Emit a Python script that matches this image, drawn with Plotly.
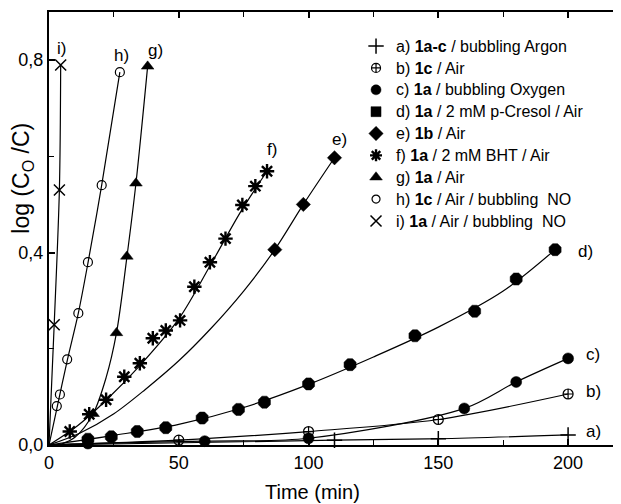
import plotly.graph_objects as go

# ---- data (time in min, log(C0/C)) ----
a_t = [0, 110, 150, 200]
a_v = [0, 0.010, 0.013, 0.021]

b_t = [0, 50, 100, 150, 200]
b_v = [0, 0.010, 0.028, 0.053, 0.106]

c_t = [0, 15, 60, 100, 160, 180, 200]
c_v = [0, 0.003, 0.008, 0.014, 0.076, 0.131, 0.180]

d_t = [0, 15, 24, 34, 45, 59, 73, 83, 100, 116, 141, 164, 180, 195]
d_v = [0, 0.012, 0.017, 0.028, 0.036, 0.056, 0.074, 0.089, 0.127, 0.167, 0.227, 0.278, 0.345, 0.406]
d_curve_t = [0, 25, 50, 75, 100, 125, 150, 175, 195]
d_curve_v = [0, 0.020, 0.043, 0.078, 0.126, 0.183, 0.245, 0.320, 0.406]

e_t = [87, 98, 110]
e_v = [0.406, 0.500, 0.597]
e_curve_t = [0, 12, 25, 37, 50, 62, 75, 87, 98, 110]
e_curve_v = [0, 0.025, 0.065, 0.115, 0.175, 0.240, 0.320, 0.406, 0.500, 0.597]

f_t = [8, 15.5, 22, 29, 35, 40, 45, 50.5, 56, 62, 68, 74.5, 79.5, 84]
f_v = [0.028, 0.064, 0.094, 0.142, 0.170, 0.222, 0.238, 0.259, 0.329, 0.380, 0.429, 0.499, 0.538, 0.569]
f_curve_t = [0, 11, 22, 35, 50, 62, 74, 84]
f_curve_v = [0, 0.040, 0.093, 0.165, 0.262, 0.372, 0.486, 0.569]

g_t = [17, 26, 30, 33.5, 38]
g_v = [0.065, 0.233, 0.392, 0.544, 0.787]
g_curve_t = [4, 10, 17, 22, 26, 30, 33.5, 38]
g_curve_v = [0, 0.016, 0.065, 0.140, 0.233, 0.390, 0.544, 0.787]

h_t = [3, 4.2, 7, 11.3, 15, 20.3, 27.3]
h_v = [0.081, 0.105, 0.178, 0.274, 0.380, 0.540, 0.775]
h_curve_t = [0, 3, 7, 11.3, 15, 20.3, 27.3]
h_curve_v = [0, 0.075, 0.175, 0.274, 0.378, 0.540, 0.775]

i_t = [2, 4, 4.5]
i_v = [0.25, 0.53, 0.79]
i_curve_t = [0, 2, 4, 4.5]
i_curve_v = [0, 0.25, 0.53, 0.79]

legend_labels = [
    "a) <b>1a-c</b> / bubbling Argon",
    "b) <b>1c</b> / Air",
    "c) <b>1a</b> / bubbling Oxygen",
    "d) <b>1a</b> / 2 mM p-Cresol / Air",
    "e) <b>1b</b> / Air",
    "f) <b>1a</b> / 2 mM BHT / Air",
    "g) <b>1a</b> / Air",
    "h) <b>1c</b> / Air / bubbling  NO",
    "i) <b>1a</b> / Air / bubbling  NO",
]
curve_labels = ["a)", "b)", "c)", "d)", "e)", "f)", "g)", "h)", "i)"]
xtick_vals = [0, 50, 100, 150, 200]
ytick_vals = [0, 0.4, 0.8]
ytick_text = ["0,0", "0,4", "0,8"]
x_title = "Time (min)"
y_title = "log (C<sub>O</sub> /C)"

BLACK = "black"
FONT = "Liberation Sans, Arial, sans-serif"
# (symbol, size, line width)
styles = [
    ("cross-thin-open", 11, 1.5),
    ("circle-cross-open", 10, 1.2),
    ("circle", 11, 0.5),
    ("octagon", 13, 0.5),
    ("diamond", 11, 0.5),
    ("asterisk-open", 12, 2.4),
    ("triangle-up", 11, 0.5),
    ("circle-open", 9, 1.2),
    ("x-thin-open", 11, 1.5),
]
legend_symbols = ["cross-thin-open", "circle-cross-open", "circle", "square", "diamond",
                  "asterisk-open", "triangle-up", "circle-open", "x-thin-open"]
legend_sizes = [11, 9, 10, 10, 11, 10, 11, 8, 11]

marker_series = [(a_t, a_v), (b_t, b_v), (c_t, c_v), (d_t, d_v), (e_t, e_v),
                 (f_t, f_v), (g_t, g_v), (h_t, h_v), (i_t, i_v)]
curve_series = [(a_t, a_v), (b_t, b_v), (c_t, c_v), (d_curve_t, d_curve_v),
                (e_curve_t, e_curve_v), (f_curve_t, f_curve_v), (g_curve_t, g_curve_v),
                (h_curve_t, h_curve_v), (i_curve_t, i_curve_v)]

fig = go.Figure()

for tt, vv in curve_series:
    fig.add_trace(go.Scatter(x=tt, y=vv, mode="lines",
                             line=dict(color=BLACK, width=1.2, shape="spline", smoothing=0.9),
                             showlegend=False, hoverinfo="skip"))

for k, (tt, vv) in enumerate(marker_series):
    sym, size, lw = styles[k]
    pts = [(t, v) for t, v in zip(tt, vv) if not (t == 0 and v == 0)]
    fig.add_trace(go.Scatter(
        x=[p[0] for p in pts], y=[p[1] for p in pts], mode="markers",
        marker=dict(symbol=sym, size=size, color=BLACK, opacity=1,
                    line=dict(color=BLACK, width=lw)),
        showlegend=False, cliponaxis=False))

# legend-only entries
for k, lab in enumerate(legend_labels):
    sym, size, lw = styles[k]
    fig.add_trace(go.Scatter(
        x=[None], y=[None], mode="markers",
        name='<span style="font-size:16px">' + lab + "</span>",
        marker=dict(symbol=legend_symbols[k], size=legend_sizes[k], color=BLACK, opacity=1,
                    line=dict(color=BLACK, width=lw))))

# curve labels
label_pos = [(206, 0.028), (206, 0.111), (206, 0.188), (203, 0.403), (112, 0.635),
             (86, 0.615), (41, 0.82), (28, 0.81), (5, 0.825)]
for lab, (x, y) in zip(curve_labels, label_pos):
    fig.add_annotation(x=x, y=y, text=lab, showarrow=False,
                       xanchor="left" if lab in ("a)", "b)", "c)", "d)") else "center",
                       font=dict(size=17, color=BLACK, family=FONT))

# axis titles (placed as in the reference)
fig.add_annotation(xref="paper", yref="paper", x=0.4606, y=-0.1085, text=x_title,
                   showarrow=False, xanchor="center", yanchor="middle",
                   font=dict(size=20, color=BLACK, family=FONT))
fig.add_annotation(xref="paper", yref="paper", x=-0.0455, y=0.615, text=y_title,
                   showarrow=False, xanchor="center", yanchor="middle", textangle=-90,
                   font=dict(size=23, color=BLACK, family=FONT))

axis_common = dict(showline=True, linecolor=BLACK, linewidth=2, mirror="ticks",
                   ticks="inside", tickcolor=BLACK, tickwidth=1.5, ticklen=6,
                   showgrid=False, zeroline=False, automargin=False,
                   tickfont=dict(size=18, color=BLACK, family=FONT))

fig.update_xaxes(range=[0, 220], tickvals=xtick_vals,
                 minor=dict(dtick=25, tick0=0, ticks="inside", ticklen=5, tickcolor=BLACK, tickwidth=1.2),
                 **axis_common)
fig.update_yaxes(range=[0, 0.9], tickvals=ytick_vals, ticktext=ytick_text,
                 minor=dict(dtick=0.2, tick0=0, ticks="inside", ticklen=5, tickcolor=BLACK, tickwidth=1.2),
                 **axis_common)

# the page body adds an 8px offset; the figure is sized so the plot box lands where the reference has it
fig.update_layout(
    width=613, height=496,
    margin=dict(l=41, r=1, t=4, b=59),
    plot_bgcolor="white", paper_bgcolor="white",
    font=dict(family=FONT, color=BLACK),
    legend=dict(x=0.5377, y=0.958, xanchor="left", yanchor="top",
                bgcolor="rgba(0,0,0,0)", borderwidth=0,
                font=dict(size=14.5, color=BLACK, family=FONT),
                itemwidth=30, tracegroupgap=0),
)

fig.write_html("out.html")
